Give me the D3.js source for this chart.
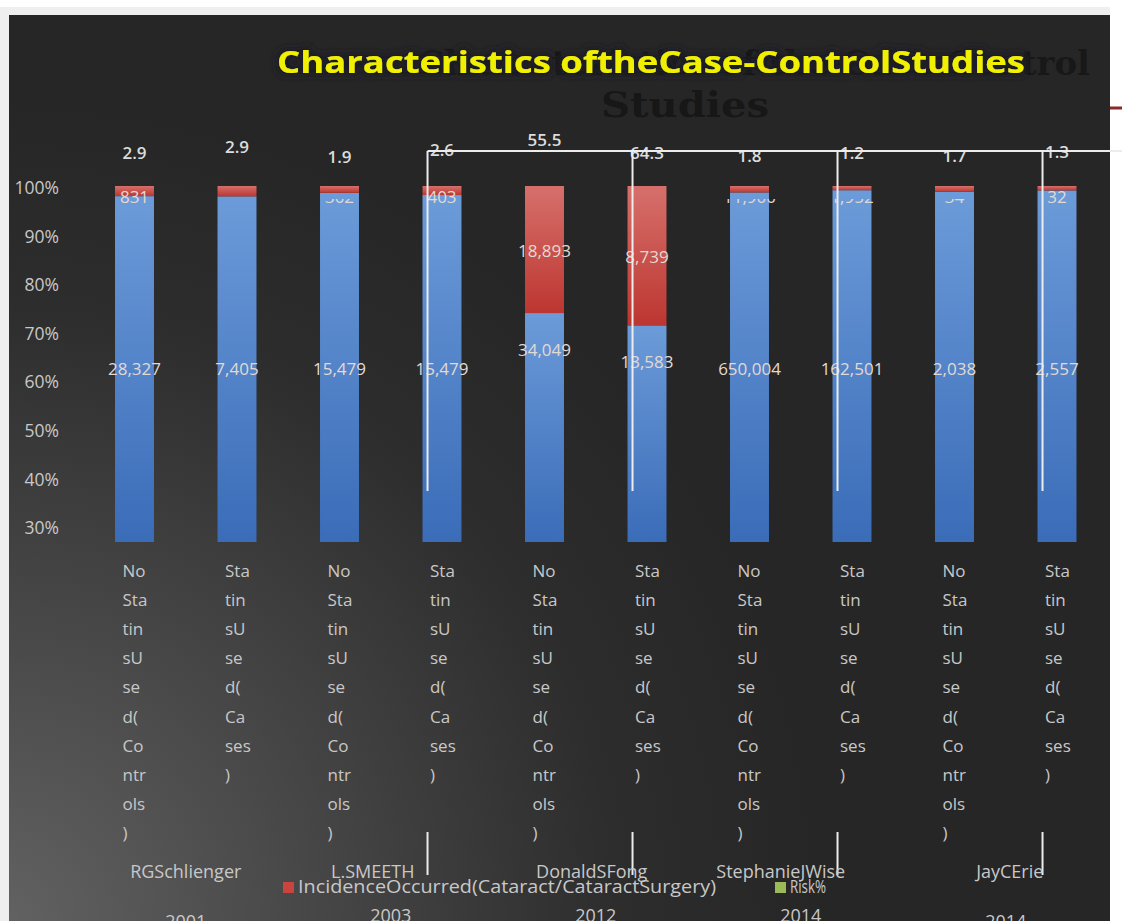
<!DOCTYPE html>
<html>
<head>
<meta charset="utf-8">
<script src="https://cdn.jsdelivr.net/npm/d3@7.9.0/dist/d3.min.js"></script>
<style>
  html, body { margin: 0; padding: 0; background: #fff; }
  svg { display: block; }
  text { font-family: "Open Sans", "Noto Sans", sans-serif; }
</style>
</head>
<body>
<svg id="chart" width="1122" height="921"></svg>
<script>
// data
const studies = ['RGSchlienger', 'L.SMEETH', 'DonaldSFong', 'StephanieJWise', 'JayCErie'];
const years = ['2001', '2003', '2012', '2014', '2014'];
const controlLines = ['No', 'Sta', 'tin', 'sU', 'se', 'd(', 'Co', 'ntr', 'ols', ')'];
const caseLines = ['Sta', 'tin', 'sU', 'se', 'd(', 'Ca', 'ses', ')'];
const noIncidence = [28327, 7405, 15479, 15479, 34049, 13583, 650004, 162501, 2038, 2557];
const incidence = [831, 221, 302, 403, 18893, 8739, 11900, 1952, 34, 32];
const incidenceShown = [true, false, true, true, true, true, true, true, true, true];
const riskPct = [2.9, 2.9, 1.9, 2.6, 55.5, 64.3, 1.8, 1.2, 1.7, 1.3];
const yTicks = [0.3, 0.4, 0.5, 0.6, 0.7, 0.8, 0.9, 1.0];
const legendItems = ['IncidenceOccurred(Cataract/CataractSurgery)', 'Risk%'];

// layout tweaks (the slide's labels are not evenly placed)
const riskLabelY = [154, 148, 158, 151, 141, 154, 157, 154, 157, 153];
const blueLabelDy = [0, 0, 0, 0, -19, -7, 0, 0, 0, 0];
const studyDx = [0, -18, -4, -20, 4];
const yearDy = [6, 0, 0, 0, 6];
const clippedRed = [2, 6, 7, 8];

const svg = d3.select('#chart');
const defs = svg.append('defs');

// backgrounds
svg.append('rect').attr('width', 1122).attr('height', 921).attr('fill', '#fff');
svg.append('rect').attr('x', 0).attr('y', 7).attr('width', 1110).attr('height', 914).attr('fill', '#efefef');

const bg = defs.append('radialGradient').attr('id', 'bg')
  .attr('gradientUnits', 'userSpaceOnUse')
  .attr('cx', 0).attr('cy', 921).attr('r', 820);
bg.append('stop').attr('offset', 0).attr('stop-color', '#626262');
bg.append('stop').attr('offset', 0.35).attr('stop-color', '#494949');
bg.append('stop').attr('offset', 0.75).attr('stop-color', '#2d2d2d');
bg.append('stop').attr('offset', 1).attr('stop-color', '#262626');
svg.append('rect').attr('x', 9).attr('y', 15).attr('width', 1101).attr('height', 906).attr('fill', 'url(#bg)');

const blueGrad = defs.append('linearGradient').attr('id', 'blue')
  .attr('x1', 0).attr('y1', 0).attr('x2', 0).attr('y2', 1);
blueGrad.append('stop').attr('offset', 0).attr('stop-color', '#6c9bd9');
blueGrad.append('stop').attr('offset', 1).attr('stop-color', '#3a6cb8');
const redGrad = defs.append('linearGradient').attr('id', 'red')
  .attr('x1', 0).attr('y1', 0).attr('x2', 0).attr('y2', 1);
redGrad.append('stop').attr('offset', 0).attr('stop-color', '#d6706b');
redGrad.append('stop').attr('offset', 1).attr('stop-color', '#bd3631');

defs.append('clipPath').attr('id', 'cut').append('rect')
  .attr('x', 0).attr('y', 199).attr('width', 1122).attr('height', 200);

// dark halo behind the yellow title
const glow = defs.append('filter').attr('id', 'glow')
  .attr('x', '-5%').attr('y', '-40%').attr('width', '110%').attr('height', '180%');
glow.append('feMorphology').attr('in', 'SourceAlpha').attr('operator', 'dilate').attr('radius', 3).attr('result', 'fat');
glow.append('feGaussianBlur').attr('in', 'fat').attr('stdDeviation', 3).attr('result', 'blur');
glow.append('feFlood').attr('flood-color', '#1c1c26').attr('result', 'col');
glow.append('feComposite').attr('in', 'col').attr('in2', 'blur').attr('operator', 'in').attr('result', 'halo');
const merge = glow.append('feMerge');
merge.append('feMergeNode').attr('in', 'halo');
merge.append('feMergeNode').attr('in', 'SourceGraphic');

// ghost title left under the yellow one
svg.append('text').attr('x', 1090).attr('y', 75).attr('text-anchor', 'end')
  .style('font-family', '"DejaVu Serif", serif').style('font-weight', 'bold')
  .style('font-size', '34px').attr('fill', '#181818')
  .text('Characteristics of the Case-Control');
svg.append('text').attr('x', 685).attr('y', 117).attr('text-anchor', 'middle')
  .style('font-family', '"DejaVu Serif", serif').style('font-weight', 'bold')
  .style('font-size', '36px').attr('fill', '#171717')
  .attr('textLength', 168).attr('lengthAdjust', 'spacingAndGlyphs')
  .text('Studies');
svg.append('line').attr('x1', 1110).attr('x2', 1122).attr('y1', 108).attr('y2', 108)
  .attr('stroke', '#8a2a2a').attr('stroke-width', 3);

svg.append('text').attr('x', 277).attr('y', 73)
  .style('font-weight', 'bold').style('font-size', '30px').attr('fill', '#f0f000')
  .attr('filter', 'url(#glow)')
  .attr('textLength', 748).attr('lengthAdjust', 'spacingAndGlyphs')
  .text('Characteristics oftheCase-ControlStudies');

// scales
const idx = d3.range(noIncidence.length);
const x = d3.scaleBand().domain(idx).range([83.25, 1108.25])
  .paddingInner(0.62).paddingOuter(0.31);
const y = d3.scaleLinear().domain([0, 1]).range([542, 186]);
const yAxisScale = d3.scaleLinear().domain([0.3, 1]).range([528, 188]);

const rows = idx.map(i => ({ i, noIncidence: noIncidence[i], incidence: incidence[i] }));
const series = d3.stack().keys(['noIncidence', 'incidence'])
  .offset(d3.stackOffsetExpand)(rows);

// y axis labels
const yAxis = svg.append('g').attr('transform', 'translate(59,0)')
  .call(d3.axisLeft(yAxisScale).tickValues(yTicks).tickSize(0).tickPadding(0)
    .tickFormat(d3.format('.0%')));
yAxis.select('.domain').remove();
yAxis.selectAll('text').attr('fill', '#c8c8c8')
  .style('font-size', '17.5px').style('font-family', '"Open Sans", sans-serif');

// bars
svg.append('g').selectAll('g').data(series).join('g')
  .attr('fill', d => d.key === 'noIncidence' ? 'url(#blue)' : 'url(#red)')
  .selectAll('rect').data(d => d).join('rect')
  .attr('x', d => x(d.data.i))
  .attr('width', x.bandwidth())
  .attr('y', d => y(d[1]))
  .attr('height', d => y(d[0]) - y(d[1]));

// value labels
const labelStyle = s => s.attr('text-anchor', 'middle').attr('dominant-baseline', 'middle')
  .style('font-size', '17px').attr('fill', '#e2dad2');
svg.append('g').selectAll('text').data(series[0]).join('text')
  .call(labelStyle)
  .attr('x', d => x(d.data.i) + x.bandwidth() / 2)
  .attr('y', (d, i) => 370 + blueLabelDy[i])
  .text(d => d3.format(',')(d.data.noIncidence));
svg.append('g').selectAll('text').data(series[1].filter(d => incidenceShown[d.data.i])).join('text')
  .call(labelStyle)
  .attr('x', d => x(d.data.i) + x.bandwidth() / 2)
  .attr('y', d => Math.max((y(d[0]) + y(d[1])) / 2 + 3, 198))
  .attr('clip-path', d => clippedRed.includes(d.data.i) ? 'url(#cut)' : null)
  .text(d => d3.format(',')(d.data.incidence));

// risk% labels
svg.append('g').selectAll('text').data(riskPct).join('text')
  .attr('x', (d, i) => x(i) + x.bandwidth() / 2)
  .attr('y', (d, i) => riskLabelY[i])
  .attr('text-anchor', 'middle').attr('dominant-baseline', 'middle')
  .style('font-size', '17px').style('font-weight', '600').attr('fill', '#dcdcdc')
  .text(d => d);

// stray connector lines from the slide
const connectorX = [3, 5, 7, 9].map(i => x(i) + 5);
svg.append('line').attr('x1', connectorX[0]).attr('x2', 1122).attr('y1', 151).attr('y2', 151)
  .attr('stroke', '#ececec').attr('stroke-width', 2);
svg.append('g').selectAll('line').data(connectorX).join('line')
  .attr('x1', d => d).attr('x2', d => d).attr('y1', 151).attr('y2', 491)
  .attr('stroke', '#ececec').attr('stroke-width', 2);
svg.append('g').selectAll('line').data(connectorX).join('line')
  .attr('x1', d => d).attr('x2', d => d).attr('y1', 832).attr('y2', 875)
  .attr('stroke', '#ececec').attr('stroke-width', 2);

// wrapped category labels
const catG = svg.append('g').attr('fill', '#c8c8c8').style('font-size', '17px');
idx.forEach(i => {
  const lines = i % 2 === 0 ? controlLines : caseLines;
  catG.append('text')
    .attr('x', x(i) + x.bandwidth() / 2 - 12)
    .selectAll('tspan').data(lines).join('tspan')
    .attr('x', x(i) + x.bandwidth() / 2 - 12)
    .attr('y', (d, k) => 577 + k * 29.1)
    .text(d => d);
});

// study names and years
const groupCenter = g => (x(2 * g) + x(2 * g + 1) + x.bandwidth()) / 2;
svg.append('g').selectAll('text').data(studies).join('text')
  .attr('x', (d, g) => groupCenter(g) + studyDx[g]).attr('y', 878)
  .attr('text-anchor', 'middle').style('font-size', '18px').attr('fill', '#c8c8c8')
  .text(d => d);
svg.append('g').selectAll('text').data(years).join('text')
  .attr('x', (d, g) => groupCenter(g)).attr('y', (d, g) => 922 + yearDy[g])
  .attr('text-anchor', 'middle').style('font-size', '18px').attr('fill', '#c8c8c8')
  .text(d => d);

// legend
const legendColors = ['#c9433f', '#9bbb59'];
const legendX = [283, 775];
const leg = svg.append('g').selectAll('g').data(legendItems).join('g')
  .attr('transform', (d, i) => `translate(${legendX[i]},882)`);
leg.append('rect').attr('width', 11).attr('height', 11).attr('fill', (d, i) => legendColors[i]);
leg.append('text').attr('x', 15).attr('y', 6).attr('dominant-baseline', 'middle')
  .style('font-size', '18px').attr('fill', '#c8c8c8')
  .attr('textLength', (d, i) => i === 0 ? 418 : 36).attr('lengthAdjust', 'spacingAndGlyphs')
  .text(d => d);
</script>
</body>
</html>
